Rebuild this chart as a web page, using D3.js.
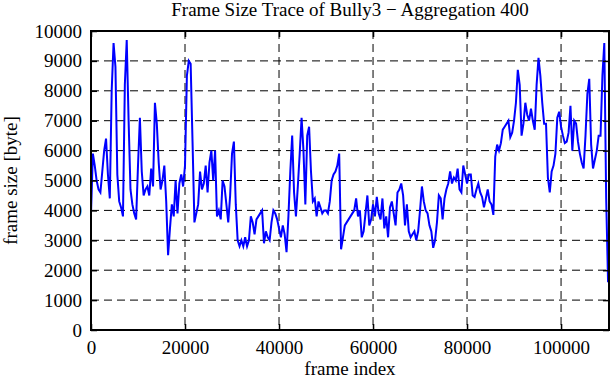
<!DOCTYPE html>
<html>
<head>
<meta charset="utf-8">
<script src="https://cdn.jsdelivr.net/npm/d3@7"></script>
<style>
  body { margin: 0; background: #fff; }
  svg { display: block; }
  text { font-family: "Liberation Serif", "DejaVu Serif", serif; }
</style>
</head>
<body>
<div id="chart"></div>
<script>
// frames per aggregated sample
const aggregation = 400;

// aggregated frame size [byte], one value per 400 frames
const frameSizes = [
  3900, 5900, 5500, 5000, 4700, 4600, 5300, 6000, 6400, 5200, 4400, 8000, 9600, 8800, 5200, 4300,
  4100, 3800, 8200, 9700, 7000, 4700, 4200, 3900, 3700, 5500, 7100, 5300, 4500, 4700, 4800, 4500,
  5400, 4800, 7600, 6900, 5600, 4700, 5000, 5500, 4300, 2500, 3400, 4200, 3800, 5000, 3900, 4900,
  5200, 4800, 5500, 8500, 9000, 8900, 6300, 3600, 3900, 4200, 5300, 4700, 4900, 5500, 4600, 5600,
  6000, 5000, 6000, 3800, 4000, 3700, 5000, 4800, 4200, 3600, 4500, 5900, 6300, 4200, 3000, 2800,
  3000, 2800, 3100, 2800, 3000, 3800, 3600, 3200, 3700, 3800, 3900, 4000, 2900, 3300, 3100, 3000,
  3600, 4000, 3900, 3700, 3400, 3100, 3500, 3200, 2600, 3800, 5300, 6500, 4600, 3800, 4800, 5900,
  7100, 6000, 4200, 6500, 6800, 5300, 4300, 4400, 3800, 4300, 4100, 3900, 4000, 4000, 3900, 4300,
  5000, 5200, 5300, 5500, 5900, 2700, 3100, 3500, 3600, 3700, 3800, 3900, 4000, 4400, 3800, 4000,
  3100, 3300, 3900, 4500, 3500, 3700, 4200, 3800, 4450, 3900, 3700, 4400, 3400, 3800, 3100, 4100,
  4300, 3900, 3500, 4600, 4700, 4900, 4500, 3500, 4200, 3300, 3100, 3200, 3300, 3000, 3300, 4000,
  4800, 4300, 4000, 3900, 3500, 3300, 2750, 3000, 3600, 4500, 4400, 3700, 4400, 4700, 4900, 5300,
  4900, 5100, 5000, 5400, 4700, 4600, 5500, 5200, 4900, 5200, 5200, 4500, 4450, 4700, 4900, 4600,
  4450, 4100, 4400, 4700, 4300, 4200, 3850, 5800, 6200, 6000, 6250, 6700, 6800, 6900, 7000, 6450,
  6600, 7000, 7600, 8700, 8200, 6500, 6900, 7600, 7200, 7000, 7400, 7000, 6700, 8200, 9100, 8500,
  7600, 6900, 6900, 5100, 4600, 5300, 5500, 5900, 7100, 7300, 6800, 6500, 6250, 6300, 6600, 7500,
  6000, 7000, 6900, 6300, 5900, 5600, 5400, 6500, 7900, 8400, 6200, 5400, 5700, 6000, 6500, 6500,
  8500, 9600, 4400, 1600
];

const xTicks = [0, 20000, 40000, 60000, 80000, 100000];
const yTicks = [0, 1000, 2000, 3000, 4000, 5000, 6000, 7000, 8000, 9000, 10000];
const xMax = 110200;
const yMax = 10000;

const margin = { top: 31, right: 2, bottom: 50, left: 91 },
  width = 611 - margin.left - margin.right,
  height = 380 - margin.top - margin.bottom;

const fontSize = 19;

const root = d3.select("#chart")
  .append("svg")
  .attr("width", width + margin.left + margin.right)
  .attr("height", height + margin.top + margin.bottom);

const svg = root.append("g")
  .attr("transform", `translate(${margin.left},${margin.top})`);

const x = d3.scaleLinear().domain([0, xMax]).range([0, width]);
const y = d3.scaleLinear().domain([0, yMax]).range([height, 0]);

// dashed grid
const grid = svg.append("g").attr("class", "grid");
grid.selectAll(".hgrid")
  .data(yTicks.filter(d => d > 0 && d < yMax))
  .enter()
  .append("line")
  .attr("x1", 0).attr("x2", width)
  .attr("y1", d => y(d)).attr("y2", d => y(d));
grid.selectAll(".vgrid")
  .data(xTicks.filter(d => d > 0 && d < xMax))
  .enter()
  .append("line")
  .attr("x1", d => x(d)).attr("x2", d => x(d))
  .attr("y1", 0).attr("y2", height);
grid.selectAll("line")
  .attr("stroke", "#000")
  .attr("stroke-width", 1)
  .attr("stroke-dasharray", "8,5");

// trace
svg.append("clipPath").attr("id", "clip")
  .append("rect").attr("width", width).attr("height", height);

const line = d3.line()
  .x((d, i) => x(i * aggregation))
  .y(d => y(d));

svg.append("path")
  .datum(frameSizes)
  .attr("clip-path", "url(#clip)")
  .attr("fill", "none")
  .attr("stroke", "#0000ff")
  .attr("stroke-width", 2)
  .attr("stroke-linejoin", "miter")
  .attr("d", line);

// axes, ticks pointing inward, mirrored on top/right
function styleAxis(g) {
  g.select(".domain").remove();
  g.selectAll(".tick line").attr("stroke", "#000").attr("stroke-width", 1.5);
  g.selectAll("text")
    .attr("font-size", fontSize)
    .attr("font-family", '"Liberation Serif", "DejaVu Serif", serif')
    .attr("fill", "#000");
}

svg.append("g")
  .attr("transform", `translate(0,${height})`)
  .call(d3.axisBottom(x).tickValues(xTicks).tickSize(-6).tickPadding(11).tickFormat(d3.format("d")))
  .call(styleAxis);

svg.append("g")
  .call(d3.axisLeft(y).tickValues(yTicks).tickSize(-6).tickPadding(9).tickFormat(d3.format("d")))
  .call(styleAxis);

svg.append("g")
  .call(d3.axisTop(x).tickValues(xTicks).tickSize(-6).tickFormat(""))
  .call(styleAxis);

svg.append("g")
  .attr("transform", `translate(${width},0)`)
  .call(d3.axisRight(y).tickValues(yTicks).tickSize(-6).tickFormat(""))
  .call(styleAxis);

// border
svg.append("rect")
  .attr("width", width)
  .attr("height", height)
  .attr("fill", "none")
  .attr("stroke", "#000")
  .attr("stroke-width", 2);

// labels
root.append("text")
  .attr("x", margin.left + width / 2)
  .attr("y", 16)
  .attr("text-anchor", "middle")
  .attr("font-size", fontSize)
  .text("Frame Size Trace of Bully3 \u2212 Aggregation 400");

root.append("text")
  .attr("x", margin.left + width / 2)
  .attr("y", 375)
  .attr("text-anchor", "middle")
  .attr("font-size", fontSize)
  .text("frame index");

root.append("text")
  .attr("transform", `translate(17,${margin.top + height / 2}) rotate(-90)`)
  .attr("text-anchor", "middle")
  .attr("font-size", fontSize)
  .text("frame size [byte]");
</script>
</body>
</html>
